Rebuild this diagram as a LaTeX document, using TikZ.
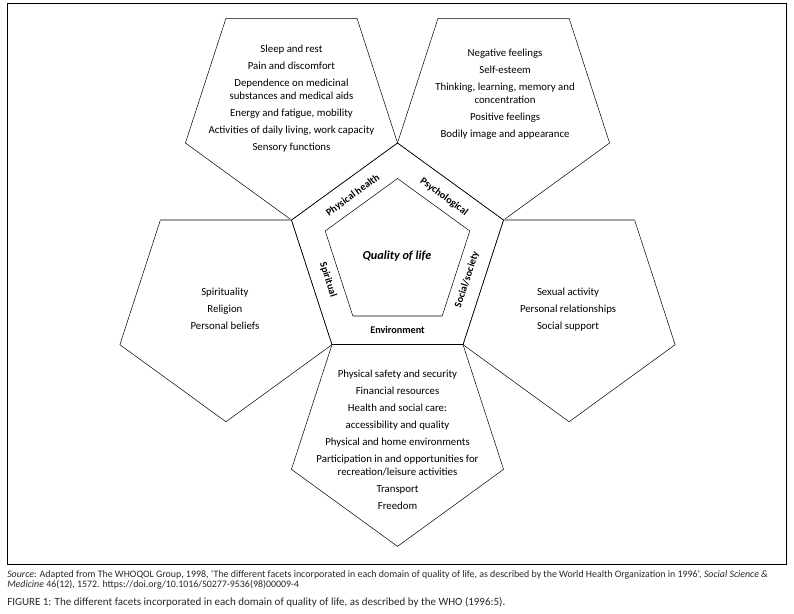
\documentclass[tikz,border=0pt]{standalone}
\usepackage{fontspec}
\setmainfont{Carlito}
\usetikzlibrary{calc}
\tikzset{
    facets/.style={align=center, inner sep=0pt, font=\fontsize{10.8}{13.3}\selectfont},
    domainlabel/.style={inner sep=0pt, font=\fontsize{10.2}{12}\selectfont\bfseries},
    greyedge/.style={draw=black!35, line width=1.2pt},
    captiontext/.style={anchor=west, align=left, inner sep=0pt, text=black!85, font=\fontsize{9.9}{10}\selectfont}
}

\begin{document}
\begin{tikzpicture}[x=1pt, y=1pt, line width=0.5pt]
        \useasboundingbox (0,0) rectangle (794,613);
        \draw[line width=0.9pt] (7,49) rectangle (786,610);
        \coordinate (qol) at (397.5,358.5);
        \coordinate (ph) at ($(qol)+(126:180.4)$);
        \coordinate (ps) at ($(qol)+(54:180.4)$);
        \coordinate (so) at ($(qol)+(342:180.4)$);
        \coordinate (en) at ($(qol)+(270:180.4)$);
        \coordinate (sp) at ($(qol)+(198:180.4)$);
        % middle pentagon and inner pentagon
        \draw ($(qol)+(90:111.5)$) -- ($(qol)+(162:111.5)$) -- ($(qol)+(234:111.5)$) -- ($(qol)+(306:111.5)$) -- ($(qol)+(18:111.5)$) -- cycle;
        \draw ($(qol)+(234:76)$) -- ($(qol)+(162:76)$) -- ($(qol)+(90:76)$) -- ($(qol)+(18:76)$) -- ($(qol)+(306:76)$);
        \draw[greyedge] ($(qol)+(234:76)$) -- ($(qol)+(306:76)$);
        % outer pentagons
        \foreach \p in {ph,ps,en}
            \draw ($(\p)+(54:111.5)$) -- ($(\p)+(126:111.5)$) -- ($(\p)+(198:111.5)$) -- ($(\p)+(270:111.5)$) -- ($(\p)+(342:111.5)$) -- cycle;
        \foreach \p in {sp,so} {
            \draw ($(\p)+(126:111.5)$) -- ($(\p)+(198:111.5)$) -- ($(\p)+(270:111.5)$) -- ($(\p)+(342:111.5)$) -- ($(\p)+(54:111.5)$);
            \draw[greyedge] ($(\p)+(54:111.5)$) -- ($(\p)+(126:111.5)$);
        }
        \draw[line width=0.9pt] ($(qol)+(234:111.5)$) -- ($(qol)+(306:111.5)$);
        % texts
        \node[font=\fontsize{12.2}{14}\selectfont\bfseries\itshape, inner sep=0pt] (qoltext) at (397,357) {Quality of life};
        \node[domainlabel, rotate=36] (phlabel) at ($(qol)+(127:74)$) {Physical health};
        \node[domainlabel, rotate=-36] (pslabel) at ($(qol)+(51:74)$) {Psychological};
        \node[domainlabel, rotate=72] (solabel) at ($(qol)+(340:74)$) {Social/society};
        \node[domainlabel, rotate=-72] (splabel) at ($(qol)+(200:74)$) {Spiritual};
        \node[domainlabel] (enlabel) at ($(qol)+(270:75)$) {Environment};
        \node[facets] (phtext) at ($(ph)+(0,10)$) {Sleep and rest\\[3.7pt] Pain and discomfort\\[3.7pt] Dependence on medicinal\\ substances and medical aids\\[3.7pt] Energy and fatigue, mobility\\[3.7pt] Activities of daily living, work capacity\\[3.7pt] Sensory functions};
        \node[facets] (pstext) at ($(ps)+(1.5,14.7)$) {Negative feelings\\[3.7pt] Self-esteem\\[3.7pt] Thinking, learning, memory and\\ concentration\\[3.7pt] Positive feelings\\[3.7pt] Bodily image and appearance};
        \node[facets] (sptext) at ($(sp)+(-1,1)$) {Spirituality\\[3.7pt] Religion\\[3.7pt] Personal beliefs};
        \node[facets] (sotext) at ($(so)+(-1,1)$) {Sexual activity\\[3.7pt] Personal relationships\\[3.7pt] Social support};
        \node[facets] (entext) at ($(en)+(0,-5)$) {Physical safety and security\\[3.7pt] Financial resources\\[3.7pt] Health and social care:\\[3.7pt] accessibility and quality\\[3.7pt] Physical and home environments\\[3.7pt] Participation in and opportunities for\\ recreation/leisure activities\\[3.7pt] Transport\\[3.7pt] Freedom};
        % caption
        \node[captiontext] (source) at (7,33) {\textit{Source}: Adapted from The WHOQOL Group, 1998, `The different facets incorporated in each domain of quality of life, as described by the World Health Organization in 1996', \textit{Social Science \&}\\ \textit{Medicine} 46(12), 1572. https://doi.org/10.1016/S0277-9536(98)00009-4};
        \node[captiontext, font=\fontsize{11}{12}\selectfont] (figcaption) at (7,10.3) {FIGURE 1: The different facets incorporated in each domain of quality of life, as described by the WHO (1996:5).};
    \end{tikzpicture}
\end{document}
